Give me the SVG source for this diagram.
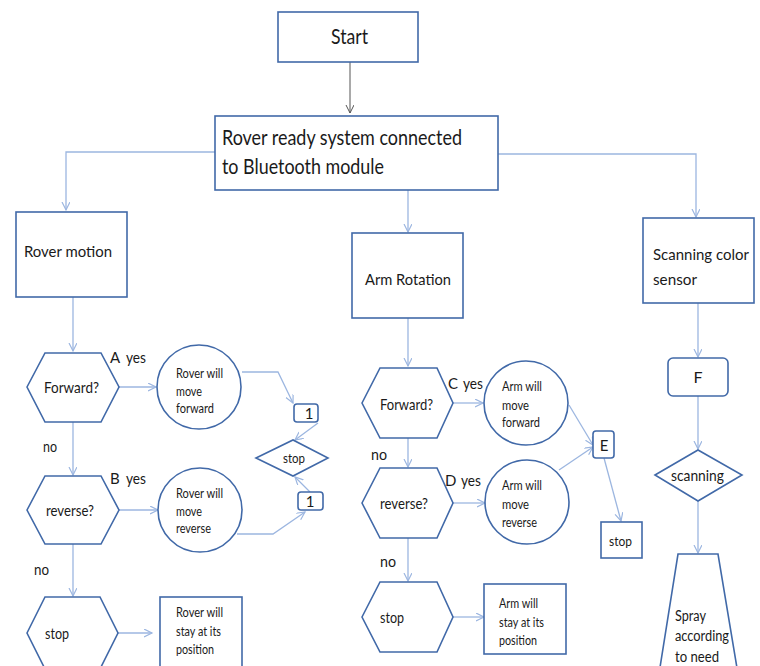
<svg xmlns="http://www.w3.org/2000/svg" width="760" height="666" viewBox="0 0 760 666">
<style>
.n{fill:#fff;stroke:#4169a8;stroke-width:1.6}
text{font-family:Lato,"Liberation Sans",sans-serif;fill:#1a1a1a}
.c{fill:none;stroke:#9cb6e0;stroke-width:1.3}
</style>
<defs>
<marker id="a" markerWidth="10" markerHeight="10" refX="8" refY="4" orient="auto" markerUnits="userSpaceOnUse">
<path d="M0,0 L8,4 L0,8" fill="none" stroke="#9cb6e0" stroke-width="1.2"/>
</marker>
<marker id="g" markerWidth="10" markerHeight="10" refX="8" refY="4" orient="auto" markerUnits="userSpaceOnUse">
<path d="M0,0 L8,4 L0,8" fill="none" stroke="#555" stroke-width="1"/>
</marker>
</defs>
<rect width="760" height="666" fill="#fff"/>
<g id="connectors">
<path d="M350,62 V113" fill="none" stroke="#555" stroke-width="1" marker-end="url(#g)"/>
<path class="c" d="M215,152 H66 V210" marker-end="url(#a)"/>
<path class="c" d="M498,154 H696 V217" marker-end="url(#a)"/>
<path class="c" d="M408,190 V232" marker-end="url(#a)"/>
<path class="c" d="M73,297 V351" marker-end="url(#a)"/>
<path class="c" d="M408,318 V366" marker-end="url(#a)"/>
<path class="c" d="M698,303 V357" marker-end="url(#a)"/>
<path class="c" d="M119,387 H156" marker-end="url(#a)"/>
<path class="c" d="M73,422 V475" marker-end="url(#a)"/>
<path class="c" d="M119,510 H158" marker-end="url(#a)"/>
<path class="c" d="M73,544 V596" marker-end="url(#a)"/>
<path class="c" d="M118,633 H152" marker-end="url(#a)"/>
<path class="c" d="M242,372 H278 L293,403" marker-end="url(#a)"/>
<path class="c" d="M318,423 L295,440" marker-end="url(#a)"/>
<path class="c" d="M310,492 L295,477" marker-end="url(#a)"/>
<path class="c" d="M237,534 H273 L305,512" marker-end="url(#a)"/>
<path class="c" d="M453,403 H483" marker-end="url(#a)"/>
<path class="c" d="M408,438 V467" marker-end="url(#a)"/>
<path class="c" d="M453,503 H485" marker-end="url(#a)"/>
<path class="c" d="M408,538 V581" marker-end="url(#a)"/>
<path class="c" d="M453,617 H484" marker-end="url(#a)"/>
<path class="c" d="M569,405 L593,445" marker-end="url(#a)"/>
<path class="c" d="M559,470 L593,447" marker-end="url(#a)"/>
<path class="c" d="M604,458 L621,521" marker-end="url(#a)"/>
<path class="c" d="M698,396 V449" marker-end="url(#a)"/>
<path class="c" d="M698,501 V553" marker-end="url(#a)"/>
</g>
<g id="start"><rect class="n" x="278" y="12" width="140" height="50"/><text x="331" y="44" font-size="21" textLength="37" lengthAdjust="spacingAndGlyphs">Start</text></g>
<g id="ready"><rect class="n" x="215" y="116" width="283" height="74"/>
<text x="222" y="145" font-size="21" textLength="240" lengthAdjust="spacingAndGlyphs">Rover ready system connected</text>
<text x="222" y="174" font-size="21" textLength="162" lengthAdjust="spacingAndGlyphs">to Bluetooth module</text></g>
<g id="rover-motion"><rect class="n" x="16" y="212" width="111" height="85"/><text x="24" y="257" font-size="16" textLength="88" lengthAdjust="spacingAndGlyphs">Rover motion</text></g>
<g id="arm-rotation"><rect class="n" x="352" y="233" width="111" height="85"/><text x="365" y="285" font-size="16" textLength="86" lengthAdjust="spacingAndGlyphs">Arm Rotation</text></g>
<g id="scanning-sensor"><rect class="n" x="643" y="218" width="111" height="85"/>
<text x="653" y="260" font-size="16" textLength="96" lengthAdjust="spacingAndGlyphs">Scanning color</text>
<text x="653" y="285" font-size="16" textLength="44" lengthAdjust="spacingAndGlyphs">sensor</text></g>
<g id="forward1"><polygon class="n" points="27,387 45,353 101,353 119,387 101,422 45,422"/><text x="44" y="393" font-size="15" textLength="55" lengthAdjust="spacingAndGlyphs">Forward?</text></g>
<g id="label-a"><text x="110" y="363" font-size="15">A</text><text x="126" y="363" font-size="15" textLength="20" lengthAdjust="spacingAndGlyphs">yes</text></g>
<g id="rover-fwd"><circle class="n" cx="199" cy="387" r="42"/>
<text x="176" y="378" font-size="13.5" textLength="47" lengthAdjust="spacingAndGlyphs">Rover will</text>
<text x="176" y="396" font-size="13.5" textLength="26" lengthAdjust="spacingAndGlyphs">move</text>
<text x="176" y="413" font-size="13.5" textLength="38" lengthAdjust="spacingAndGlyphs">forward</text></g>
<g id="one-a"><rect class="n" x="294" y="404" width="24" height="18" rx="3"/><text x="309" y="419" font-size="15" text-anchor="middle">1</text></g>
<g id="stop-diamond"><polygon class="n" points="256,458 293,440 328,458 293,476"/><text x="283" y="463" font-size="13.5" textLength="22" lengthAdjust="spacingAndGlyphs">stop</text></g>
<g id="one-b"><rect class="n" x="298" y="492" width="25" height="18" rx="3"/><text x="310" y="507" font-size="15" text-anchor="middle">1</text></g>
<text x="43" y="452" font-size="15" textLength="14" lengthAdjust="spacingAndGlyphs">no</text>
<g id="reverse1"><polygon class="n" points="27,510 45,476 101,476 119,510 101,544 45,544"/><text x="46" y="516" font-size="15" textLength="48" lengthAdjust="spacingAndGlyphs">reverse?</text></g>
<g id="label-b"><text x="110" y="484" font-size="15">B</text><text x="126" y="484" font-size="15" textLength="20" lengthAdjust="spacingAndGlyphs">yes</text></g>
<g id="rover-rev"><circle class="n" cx="200" cy="510" r="42"/>
<text x="176" y="498" font-size="13.5" textLength="47" lengthAdjust="spacingAndGlyphs">Rover will</text>
<text x="176" y="516" font-size="13.5" textLength="26" lengthAdjust="spacingAndGlyphs">move</text>
<text x="176" y="533" font-size="13.5" textLength="35" lengthAdjust="spacingAndGlyphs">reverse</text></g>
<text x="34" y="575" font-size="15" textLength="15" lengthAdjust="spacingAndGlyphs">no</text>
<g id="stop1"><polygon class="n" points="27,633 45,597 100,597 118,633 100,669 45,669"/><text x="45" y="639" font-size="15" textLength="24" lengthAdjust="spacingAndGlyphs">stop</text></g>
<g id="rover-stay"><rect class="n" x="160" y="597" width="82" height="75"/>
<text x="176" y="617" font-size="13.5" textLength="47" lengthAdjust="spacingAndGlyphs">Rover will</text>
<text x="176" y="636" font-size="13.5" textLength="45" lengthAdjust="spacingAndGlyphs">stay at its</text>
<text x="176" y="654" font-size="13.5" textLength="38" lengthAdjust="spacingAndGlyphs">position</text></g>
<g id="forward2"><polygon class="n" points="362,403 380,368 437,368 453,403 437,438 380,438"/><text x="380" y="410" font-size="16" textLength="53" lengthAdjust="spacingAndGlyphs">Forward?</text></g>
<g id="label-c"><text x="448" y="389" font-size="15">C</text><text x="463" y="389" font-size="15" textLength="20" lengthAdjust="spacingAndGlyphs">yes</text></g>
<g id="arm-fwd"><circle class="n" cx="526" cy="403" r="42"/>
<text x="502" y="391" font-size="14" textLength="40" lengthAdjust="spacingAndGlyphs">Arm will</text>
<text x="502" y="410" font-size="14" textLength="27" lengthAdjust="spacingAndGlyphs">move</text>
<text x="502" y="427" font-size="14" textLength="38" lengthAdjust="spacingAndGlyphs">forward</text></g>
<g id="e-box"><rect class="n" x="593" y="431" width="21" height="27" rx="3"/><text x="604" y="451" font-size="15" text-anchor="middle">E</text></g>
<g id="stop-arm"><rect class="n" x="601" y="522" width="41" height="36"/><text x="609" y="546" font-size="14" textLength="23" lengthAdjust="spacingAndGlyphs">stop</text></g>
<text x="371" y="460" font-size="15" textLength="16" lengthAdjust="spacingAndGlyphs">no</text>
<g id="reverse2"><polygon class="n" points="362,503 380,468 437,468 453,503 437,538 380,538"/><text x="380" y="509" font-size="16" textLength="48" lengthAdjust="spacingAndGlyphs">reverse?</text></g>
<g id="label-d"><text x="445" y="486" font-size="15">D</text><text x="461" y="486" font-size="15" textLength="20" lengthAdjust="spacingAndGlyphs">yes</text></g>
<g id="arm-rev"><circle class="n" cx="527" cy="502" r="42"/>
<text x="502" y="490" font-size="14" textLength="40" lengthAdjust="spacingAndGlyphs">Arm will</text>
<text x="502" y="509" font-size="14" textLength="27" lengthAdjust="spacingAndGlyphs">move</text>
<text x="502" y="527" font-size="14" textLength="35" lengthAdjust="spacingAndGlyphs">reverse</text></g>
<text x="380" y="567" font-size="15" textLength="16" lengthAdjust="spacingAndGlyphs">no</text>
<g id="stop2"><polygon class="n" points="362,617 380,582 437,582 453,617 437,652 380,652"/><text x="380" y="623" font-size="16" textLength="24" lengthAdjust="spacingAndGlyphs">stop</text></g>
<g id="arm-stay"><rect class="n" x="484" y="584" width="82" height="70"/>
<text x="499" y="608" font-size="14" textLength="39" lengthAdjust="spacingAndGlyphs">Arm will</text>
<text x="499" y="627" font-size="14" textLength="45" lengthAdjust="spacingAndGlyphs">stay at its</text>
<text x="499" y="645" font-size="14" textLength="38" lengthAdjust="spacingAndGlyphs">position</text></g>
<g id="f-box"><rect class="n" x="668" y="358" width="60" height="38" rx="5"/><text x="698" y="383" font-size="16" text-anchor="middle">F</text></g>
<g id="scanning"><polygon class="n" points="655,475 698,450 742,475 698,501"/><text x="671" y="481" font-size="16" textLength="53" lengthAdjust="spacingAndGlyphs">scanning</text></g>
<g id="spray"><polygon class="n" points="678,554 718,554 739,680 658,680"/>
<text x="675" y="621" font-size="15.5" textLength="31" lengthAdjust="spacingAndGlyphs">Spray</text>
<text x="675" y="641" font-size="15.5" textLength="54" lengthAdjust="spacingAndGlyphs">according</text>
<text x="675" y="662" font-size="15.5" textLength="44" lengthAdjust="spacingAndGlyphs">to need</text></g>
</svg>
